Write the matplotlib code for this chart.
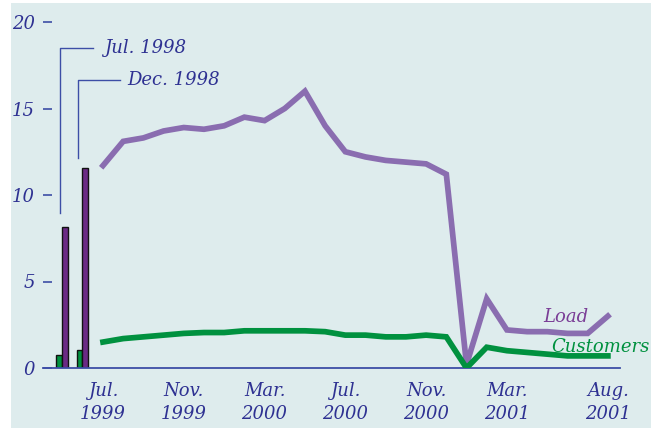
import matplotlib
matplotlib.use("Agg")
import matplotlib.pyplot as plt
from matplotlib.patches import Rectangle

# ---- data ----
months = ["Jul. 1999", "Aug. 1999", "Sep. 1999", "Oct. 1999", "Nov. 1999", "Dec. 1999",
          "Jan. 2000", "Feb. 2000", "Mar. 2000", "Apr. 2000", "May 2000", "Jun. 2000",
          "Jul. 2000", "Aug. 2000", "Sep. 2000", "Oct. 2000", "Nov. 2000", "Dec. 2000",
          "Jan. 2001", "Feb. 2001", "Mar. 2001", "Apr. 2001", "May 2001", "Jun. 2001",
          "Jul. 2001", "Aug. 2001"]
load = [11.7, 13.1, 13.3, 13.7, 13.9, 13.8, 14.0, 14.5, 14.3, 15.0, 16.0, 14.0,
        12.5, 12.2, 12.0, 11.9, 11.8, 11.2, 0.2, 4.0, 2.2, 2.1, 2.1, 2.0, 2.0, 3.0]
customers = [1.5, 1.7, 1.8, 1.9, 2.0, 2.05, 2.05, 2.15, 2.15, 2.15, 2.15, 2.1,
             1.9, 1.9, 1.8, 1.8, 1.9, 1.8, 0.0, 1.2, 1.0, 0.9, 0.8, 0.7, 0.7, 0.7]
bar_labels = ["Jul. 1998", "Dec. 1998"]
bar_load = [8.15, 11.55]
bar_customers = [0.75, 1.05]
tick_idx = [0, 4, 8, 12, 16, 20, 25]
tick_labels = ["Jul.\n1999", "Nov.\n1999", "Mar.\n2000", "Jul.\n2000",
               "Nov.\n2000", "Mar.\n2001", "Aug.\n2001"]
y_ticks = [0, 5, 10, 15, 20]

# ---- style ----
BG = "#deeced"
TEXT = "#2e3192"
AXIS = "#3d4ea6"
LOAD_LINE = "#8a6db0"
LOAD_BAR = "#6b2a85"
LOAD_TXT = "#7a3d96"
GREEN = "#00913f"
FONT = dict(family="DejaVu Serif", style="italic")
FS = 13

fig = plt.figure(figsize=(6.58, 4.28), dpi=100)
fig.patches.append(Rectangle((11/658, 0), 640/658, 425/428, transform=fig.transFigure,
                             facecolor=BG, edgecolor="none", zorder=-10))
ax = fig.add_axes([43/658, 60/428, 577/658, 346/428])
ax.set_facecolor("none")

x = list(range(len(months)))
ax.plot(x, load, color=LOAD_LINE, lw=4.1, solid_joinstyle="miter", zorder=3)
ax.plot(x, customers, color=GREEN, lw=4.1, solid_joinstyle="miter", zorder=3)

bar_x = [-2.03, -1.03]
w = 0.27
ax.bar([b - w/2 - 0.01 for b in bar_x], bar_customers, width=w, color=GREEN,
       edgecolor="#111111", linewidth=1.0, zorder=2)
ax.bar([b + w/2 + 0.01 for b in bar_x], bar_load, width=w, color=LOAD_BAR,
       edgecolor="#111111", linewidth=1.0, zorder=2)

# callouts
callouts = [(-2.13, 8.96, 18.5, -0.49, 0.05), (-1.24, 12.14, 16.65, 0.84, 1.19)]
for lab, (cx, y0, y1, xe, xt) in zip(bar_labels, callouts):
    ax.plot([cx, cx, xe], [y0, y1, y1], color=AXIS, lw=1.0, clip_on=False)
    ax.text(xt, y1, lab, color=TEXT, fontsize=FS, va="center", ha="left", **FONT)

ax.text(21.8, 2.95, "Load", color=LOAD_TXT, fontsize=FS, va="center", ha="left", **FONT)
ax.text(22.2, 1.2, "Customers", color=GREEN, fontsize=FS, va="center", ha="left",
        clip_on=False, **FONT)

ax.set_xlim(-2.97, 25.6)
ax.set_ylim(0, 20)
for s in ["top", "right", "left"]:
    ax.spines[s].set_visible(False)
ax.spines["bottom"].set_color(AXIS)
ax.spines["bottom"].set_linewidth(1.3)

ax.set_yticks(y_ticks)
ax.set_yticklabels([str(v) for v in y_ticks])
ax.tick_params(axis="y", direction="in", length=6.5, width=1.2, color=AXIS, pad=6,
               labelcolor=TEXT, labelsize=FS)
ax.set_xticks(tick_idx)
ax.set_xticklabels(tick_labels, linespacing=1.35)
ax.tick_params(axis="x", length=0, pad=10, labelcolor=TEXT, labelsize=FS)
for lbl in ax.get_xticklabels() + ax.get_yticklabels():
    lbl.set_family("DejaVu Serif")
    lbl.set_style("italic")

fig.savefig("out.png", dpi=100)
